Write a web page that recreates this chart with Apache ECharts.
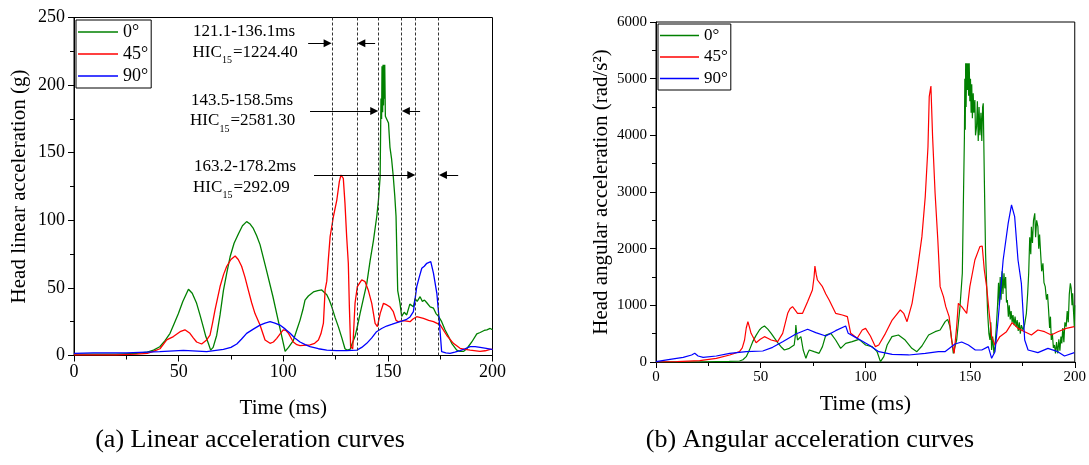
<!DOCTYPE html>
<html><head><meta charset="utf-8">
<script src="https://cdn.jsdelivr.net/npm/echarts@6/dist/echarts.min.js"></script>
<style>html,body{margin:0;padding:0;background:#fff}#c{width:1089px;height:465px}</style>
</head><body><div id="c"></div>
<script>
const seriesNames = ['0°', '45°', '90°'];
const xTicks = [0, 50, 100, 150, 200];
// Left: head linear acceleration (g) vs time (ms)
const lin0 = [[0,1],[10,1],[20,1],[30,1.5],[35,2.5],[38,4],[41,6.5],[43.5,11],[45.9,16.4],[48,24],[49.9,31],[52,40],[54.7,49],[56.5,46],[58.6,38.6],[60.2,30],[61.8,21],[63,14],[64.2,9],[65.3,4],[66.5,6],[68.2,15],[69.8,30],[71.4,48],[73,61],[74.6,73],[76.5,83],[78.6,90],[80.5,96],[82.5,99],[84,97.5],[85.7,94],[87.3,88.5],[88.9,82],[92,63],[95,44],[98,23],[100.9,3],[102.5,6],[104.8,11],[106.5,19],[108,26],[109.4,34],[110.4,41],[112,44],[114.4,47],[116.5,48],[118.4,48.5],[120.8,45],[122,41],[123.2,36],[124.8,28],[126.4,21],[128,13],[129.5,5],[130.5,4],[131.9,4.5],[133,9],[134.3,14],[135.5,22],[136.7,31],[138.3,42],[139.9,53],[141.5,70],[143.1,85],[144.7,103],[145.5,115],[146.3,132],[146.7,190],[147,175],[147.2,214],[147.5,180],[147.7,215],[147.9,185],[148.1,215],[148.3,190],[148.5,215],[148.8,177],[149.5,176],[150.3,172],[151,154],[151.8,145],[152.6,132],[153.3,118],[153.9,103],[154.3,75],[154.7,48],[155.8,38.6],[156.6,29],[157.8,32],[159,30],[160.5,38],[162.2,36],[163,42],[164,40],[165.4,43.5],[166.5,40],[167.5,41],[168.6,39],[170.2,36],[171.8,35],[173,31],[174.2,29],[175.7,25],[177.3,19],[179,14],[180.5,9],[182.9,4],[184.5,3],[186.1,3],[187.7,5],[190.1,10],[192.5,16],[194.1,17],[196,18.5],[197.3,19],[198.9,20],[200,19]];
const lin45 = [[0,0.5],[20,0.5],[30,1],[35,1.5],[37.9,3],[41.1,5],[44.3,11.5],[47.5,14],[50.7,17.6],[53,19],[55.4,16.4],[57,13],[58.6,10],[61,8.5],[63.4,11.5],[65,15],[66.2,24],[67.4,33.7],[69.8,51],[71.5,60],[73,66],[75,71],[77,73.6],[78.5,71],[80.1,66],[81.7,58],[83.3,48.4],[84.9,39],[86.5,31],[88.9,22.5],[91.3,11.5],[93.7,9],[95.3,10],[96.9,12.7],[98.5,16],[100,19],[101.3,18.5],[102.5,16.4],[104.8,10],[106.5,8],[108,7.3],[112.8,7.8],[115,9],[116.8,11.5],[118,16],[119.2,24],[120,48.5],[120.8,55],[121.5,70],[122.4,88],[124,103],[125.6,115],[126.8,128.6],[127.6,133.5],[128.7,131],[129.5,112.5],[130.3,88],[131.1,68],[131.6,36],[132.2,6.5],[133.2,5],[133.7,20],[134.3,38.5],[135.4,51],[137.5,56],[139.1,54.6],[140.6,48.5],[142.3,38.6],[143.9,23.8],[145,21.3],[146.3,31],[147.9,38.6],[149.5,37.4],[151,36],[152.6,32.4],[153.9,26],[155,25],[157.4,25.8],[160.6,25],[162,27],[163.8,28.7],[167,27.5],[169.5,26],[171.8,25],[175,22.6],[176.5,19],[178.1,15],[181.3,9],[184.5,5.3],[187,4.5],[189.3,4],[194,3],[196.5,3.5],[198.9,4.5],[200,4.5]];
const lin90 = [[0,1.5],[9.2,2],[25,2],[41,2.8],[52.3,3.8],[63.4,2.8],[71.4,4.6],[75,6],[77.8,8.5],[80,12],[82.5,16.4],[85.7,19.5],[88.9,22.5],[91.3,24],[93.7,25],[96,24],[98.4,22.5],[101,19.5],[103.3,16.4],[105.5,13],[108,10],[110.5,8],[112.8,6.5],[116.8,5],[120.8,4],[125.5,3.6],[130.3,3.6],[135.2,4],[137.5,6],[139.9,9],[142.3,13],[144.6,17.6],[147,20],[149.4,21.8],[151.8,23],[154.3,24.3],[156.6,25.5],[159,26.8],[160.6,28.5],[162.2,32.4],[163.8,51],[165,58],[166.2,64.5],[167.4,66],[168.6,68.2],[170.5,69.4],[171.8,60.7],[173.4,46],[174.6,25],[175.7,2.8],[177.7,2],[179.7,1.6],[182,2.5],[184.5,3.6],[186.9,5],[189.3,6.5],[191.7,6.5],[194.1,6],[197,5.3],[199.6,4.5],[200,4.5]];
// Right: head angular acceleration (rad/s^2) vs time (ms)
const ang0 = [[0,0],[20,0],[28.8,6],[35,10],[39.9,18],[41.5,40],[43.1,94],[44.6,210],[46.2,359],[47.8,470],[49.4,565],[50.6,610],[51.8,635],[53.4,580],[55,506],[56.6,420],[58.1,341],[59.7,270],[61.3,212],[63.7,241],[66,300],[66.5,450],[66.8,653],[67.2,500],[67.6,388],[69.2,447],[70.3,212],[71.6,65],[72.4,150],[73.2,212],[75.5,182],[77.9,153],[79.5,271],[81.1,477],[83.5,506],[85.8,388],[88.2,241],[90.6,329],[93.7,359],[96.9,400],[98.5,350],[100.1,300],[103.2,271],[105.6,182],[107.2,6],[108.8,94],[110.4,300],[112.7,447],[115.8,477],[119,388],[122.2,241],[124.6,182],[127,282],[130.2,477],[133.3,535],[135.7,565],[138.1,712],[139.3,753],[140.4,624],[141.2,400],[142,153],[143.6,388],[145.2,977],[146.3,1565],[146.8,2800],[147.3,3977],[147.5,5000],[147.7,4100],[147.9,5270],[148.1,4500],[148.4,5270],[148.7,4800],[149,5270],[149.3,4700],[149.6,5270],[149.9,4600],[150.2,5000],[150.5,4400],[150.8,4900],[151.1,4300],[151.5,4742],[151.8,4400],[152.3,4624],[152.6,4000],[153.1,4153],[153.5,4600],[153.9,3900],[154.3,4500],[154.7,4000],[155.2,4400],[155.6,3900],[156,4500],[156.3,4565],[156.8,3271],[157.4,1918],[158.4,859],[159,500],[159.5,388],[159.9,700],[160.3,212],[160.8,450],[161.4,150],[161.9,271],[162.5,600],[163.1,977],[163.6,1400],[164,1000],[164.4,1500],[164.8,1100],[165.3,1600],[165.7,1200],[166.2,1565],[166.6,1300],[167,1500],[167.4,1050],[167.8,1094],[168.3,800],[168.7,1000],[169.2,750],[169.6,900],[170.1,700],[170.5,830],[171,650],[171.5,800],[172,620],[172.5,741],[173,550],[173.5,700],[174,500],[174.5,650],[175.3,565],[176,650],[176.9,859],[177.5,1200],[178,1565],[178.5,2200],[179,1900],[179.3,2388],[179.8,2100],[180.3,2500],[180.9,2624],[181.3,2200],[181.8,2500],[182.4,2388],[182.8,2000],[183.2,2250],[183.7,1918],[184.2,1600],[184.8,1741],[185.3,1400],[185.9,1330],[186.5,1100],[187,1200],[187.5,918],[188,600],[188.4,800],[188.8,388],[189.3,500],[189.8,250],[190.3,300],[190.8,150],[191.3,350],[191.9,153],[192.4,400],[192.9,200],[193.4,450],[193.8,329],[194.3,600],[194.8,350],[195.3,700],[195.9,624],[196.4,900],[196.9,700],[197.4,1200],[197.9,1388],[198.3,1300],[198.7,1000],[199,1212],[199.4,900],[199.8,624],[200,1000]];
const ang45 = [[0,0],[10,5],[20.9,24],[28.8,65],[35.2,124],[39.9,182],[41.2,250],[42.3,388],[43.1,600],[43.9,712],[44.6,620],[45.4,506],[47.8,341],[49.8,400],[51.8,447],[53.4,420],[55,388],[58.1,359],[60.5,506],[62.9,859],[64,940],[65.2,977],[66.4,920],[67.6,859],[70,859],[72.4,1065],[74.7,1271],[75.5,1500],[75.9,1694],[76.5,1550],[77.1,1447],[79.5,1330],[81.1,1200],[82.7,1094],[85.8,859],[89,830],[91.4,800],[92.2,650],[93,506],[96.1,418],[98.5,565],[100.1,594],[102.4,459],[104.8,271],[106.4,300],[109.6,506],[112.8,741],[116.7,918],[118.3,859],[119.9,712],[122.3,1035],[124.6,1565],[127,2212],[128.6,2918],[129.9,3800],[130.5,4683],[131.3,4871],[132.1,3977],[133.3,2977],[134.6,2153],[135.7,1330],[137.3,1153],[138.4,977],[140,800],[141.2,388],[142.4,153],[143.6,624],[144.4,1035],[146,977],[148.4,859],[149.9,1330],[152.3,1800],[154.7,2036],[155.8,2047],[156.8,1624],[157.9,1330],[159,918],[160.3,447],[161.9,300],[164.2,447],[167.4,535],[170.1,694],[172.9,594],[176.1,535],[179.3,477],[182.4,565],[185.6,535],[188.8,477],[191.9,535],[195.9,594],[199.8,624]];
const ang90 = [[0,6],[6.7,47],[13,82],[17,124],[18.5,153],[20.1,106],[22.5,82],[28.8,106],[35.2,153],[43.1,182],[51,194],[55.7,259],[60.5,359],[66.8,494],[72.4,577],[76.3,518],[81.1,459],[85.8,553],[90.6,635],[91.8,506],[95.3,435],[98,380],[101.7,300],[106.4,182],[112.8,135],[120.7,124],[128.6,153],[134.9,182],[138,182],[142.8,318],[146,353],[149.2,300],[152.5,212],[155.6,212],[158.7,271],[160.3,65],[161.9,182],[163.4,741],[165.8,1800],[168.2,2447],[169.8,2771],[171.3,2565],[172.9,1800],[174.5,1388],[176.1,388],[177.7,212],[182.4,165],[187.2,241],[191.9,182],[195.1,106],[199.8,165]];
// HIC window boundaries as drawn (ms) and annotation texts
const hicLines = [123.2, 135.3, 145.5, 156.6, 163.2, 174.3];
const hicRanges = ['121.1-136.1ms', '143.5-158.5ms', '163.2-178.2ms'];
const hicValues = ['1224.40', '2581.30', '292.09'];
// arrow rows: [y level (g), right-arrow start, right-arrow end, left-arrow start, left-arrow end]
const arrowRows = [[231, 111.9, 123.2, 143.9, 135.3],[180.8, 112.8, 145.5, 165.4, 156.6],[133.5, 114.7, 163.2, 183.6, 174.3]];

const FF = 'Liberation Serif';
const colors = ['#008000', '#ff0000', '#0000ff'];
const plainNum = v => String(v);

function xAxisCfg(gi, fs, nameFs, nameGap) {
  return {
    type: 'value', gridIndex: gi, min: 0, max: 200, interval: 50,
    name: 'Time (ms)', nameLocation: 'middle', nameGap: nameGap,
    nameTextStyle: {fontFamily: FF, fontSize: nameFs, color: '#000'},
    axisLine: {show: true, onZero: false, lineStyle: {color: '#000', width: 1}},
    axisTick: {show: true, length: 6, lineStyle: {color: '#000'}},
    minorTick: {show: true, splitNumber: 2, length: 4, lineStyle: {color: '#000'}},
    axisLabel: {fontFamily: FF, fontSize: fs, color: '#000', margin: 8, formatter: plainNum},
    splitLine: {show: false}
  };
}
function yAxisCfg(gi, max, interval, name, fs, nameFs, nameGap) {
  return {
    type: 'value', gridIndex: gi, min: 0, max: max, interval: interval,
    name: name, nameLocation: 'middle', nameGap: nameGap,
    nameTextStyle: {fontFamily: FF, fontSize: nameFs, color: '#000'},
    axisLine: {show: true, lineStyle: {color: '#000', width: 1}},
    axisTick: {show: true, length: 6, lineStyle: {color: '#000'}},
    minorTick: {show: true, splitNumber: 2, length: 4, lineStyle: {color: '#000'}},
    axisLabel: {fontFamily: FF, fontSize: fs, color: '#000', margin: 9, formatter: plainNum},
    splitLine: {show: false}
  };
}
function lineSeries(name, data, gi, ci, w) {
  return {
    type: 'line', name: name, data: data, xAxisIndex: gi, yAxisIndex: gi,
    symbol: 'none', showSymbol: false, smooth: false, z: 3,
    lineStyle: {color: colors[ci], width: w}, itemStyle: {color: colors[ci]}
  };
}

const arrowData = [];
arrowRows.forEach(r => {
  const off = 2.0;
  arrowData.push([{coord: [r[1], r[0]]}, {coord: [r[2] - off, r[0]]}]);
  arrowData.push([{coord: [r[3], r[0]]}, {coord: [r[4] + off, r[0]]}]);
});

// annotation text positions: [rangeX, rangeY, hicX, hicCenterY]
const annPos = [[193, 31.5, 192.5, 52.5], [191, 100.5, 190, 121], [194, 166.7, 193, 187.5]];
const graphics = [];
annPos.forEach((p, i) => {
  graphics.push({type: 'text', x: p[0], y: p[1], silent: true,
    style: {text: hicRanges[i], fontFamily: FF, fontSize: 17, fill: '#000', verticalAlign: 'middle', align: 'left'}});
  graphics.push({type: 'text', x: p[2], y: p[3], silent: true,
    style: {text: 'HIC', fontFamily: FF, fontSize: 17, fill: '#000', verticalAlign: 'middle', align: 'left'}});
  graphics.push({type: 'text', x: p[2] + 29.5, y: p[3] + 8, silent: true,
    style: {text: '15', fontFamily: FF, fontSize: 10, fill: '#000', verticalAlign: 'middle', align: 'left'}});
  graphics.push({type: 'text', x: p[2] + 40.5, y: p[3], silent: true,
    style: {text: '=' + hicValues[i], fontFamily: FF, fontSize: 17, fill: '#000', verticalAlign: 'middle', align: 'left'}});
});
graphics.push({type: 'text', x: 250, y: 440, silent: true,
  style: {text: '(a) Linear acceleration curves', fontFamily: FF, fontSize: 26, fill: '#000', align: 'center', verticalAlign: 'middle'}});
graphics.push({type: 'text', x: 810, y: 440, silent: true,
  style: {text: '(b) Angular acceleration curves', fontFamily: FF, fontSize: 26, fill: '#000', align: 'center', verticalAlign: 'middle'}});

const option = {
  animation: false,
  backgroundColor: '#fff',
  grid: [
    {left: 74, top: 17.5, width: 418.5, height: 338, show: true, borderColor: '#000', borderWidth: 1, backgroundColor: 'transparent'},
    {left: 656, top: 22, width: 421, height: 340, show: true, borderColor: '#000', borderWidth: 1, backgroundColor: 'transparent'}
  ],
  legend: [
    {data: seriesNames, orient: 'vertical', left: 76, top: 20, icon: 'rect', itemWidth: 40, itemHeight: 1.3, itemGap: 4,
     padding: [3, 3, 3, 2], borderColor: '#000', borderWidth: 1, borderRadius: 0, backgroundColor: '#fff',
     textStyle: {fontFamily: FF, fontSize: 18, color: '#000', lineHeight: 18}, selectedMode: false},
    {data: seriesNames, orient: 'vertical', left: 658, top: 24, icon: 'rect', itemWidth: 39, itemHeight: 1.3, itemGap: 4.5,
     padding: [3, 3, 3, 2], borderColor: '#000', borderWidth: 1, borderRadius: 0, backgroundColor: '#fff',
     textStyle: {fontFamily: FF, fontSize: 17, color: '#000', lineHeight: 17}, selectedMode: false}
  ],
  xAxis: [xAxisCfg(0, 18, 21, 42), xAxisCfg(1, 15, 22, 31)],
  yAxis: [
    yAxisCfg(0, 250, 50, 'Head linear acceleration (g)', 18, 21, 44),
    yAxisCfg(1, 6000, 1000, 'Head angular acceleration (rad/s²)', 15, 21, 44)
  ],
  series: [
    lineSeries(seriesNames[0], lin0, 0, 0, 1.3),
    lineSeries(seriesNames[1], lin45, 0, 1, 1.3),
    lineSeries(seriesNames[2], lin90, 0, 2, 1.3),
    lineSeries(seriesNames[0], ang0, 1, 0, 1.2),
    lineSeries(seriesNames[1], ang45, 1, 1, 1.2),
    lineSeries(seriesNames[2], ang90, 1, 2, 1.2),
    {type: 'line', name: 'hicWindows', data: [], xAxisIndex: 0, yAxisIndex: 0, z: 2,
     markLine: {silent: true, symbol: ['none', 'none'], label: {show: false},
       lineStyle: {color: '#333', width: 1, type: [3, 2]},
       data: hicLines.map(v => ({xAxis: v}))}},
    {type: 'line', name: 'hicArrows', data: [], xAxisIndex: 0, yAxisIndex: 0, z: 4,
     markLine: {silent: true, symbol: ['none', 'triangle'], symbolSize: 8, label: {show: false},
       lineStyle: {color: '#000', width: 1, type: 'solid'},
       data: arrowData}}
  ],
  graphic: graphics
};
const chart = echarts.init(document.getElementById('c'), null, {renderer: 'canvas'});
chart.setOption(option);
</script></body></html>
